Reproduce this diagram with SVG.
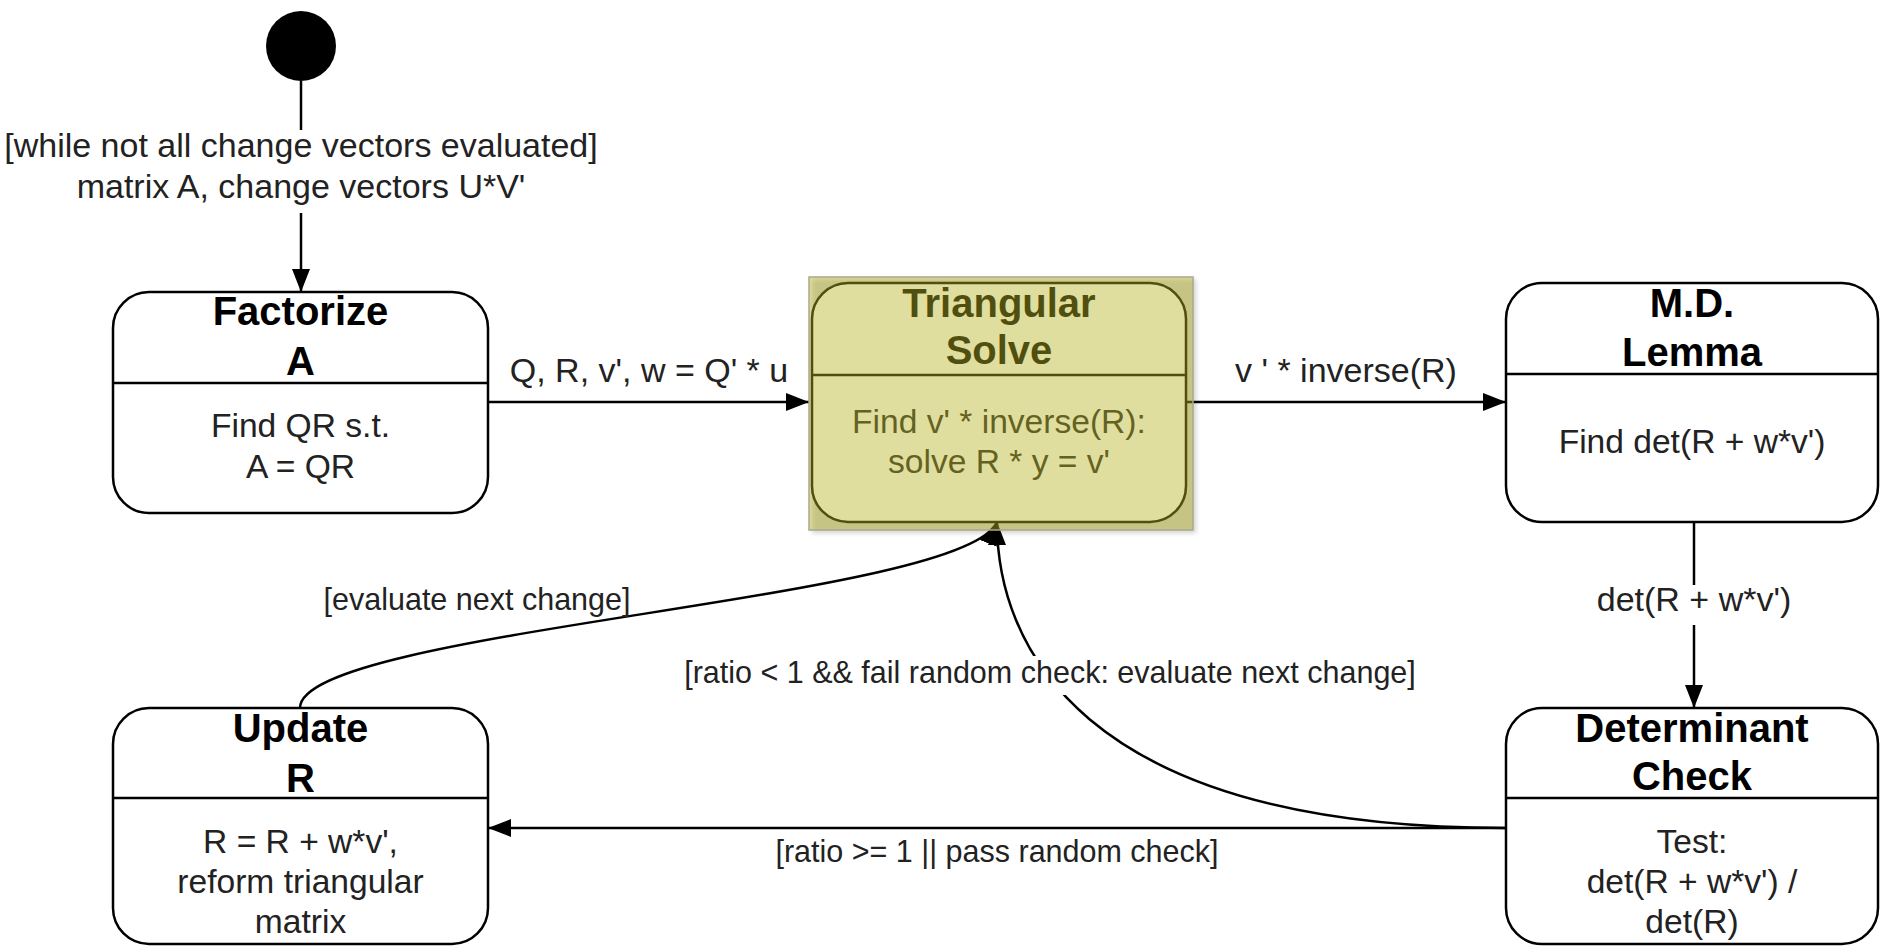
<svg xmlns="http://www.w3.org/2000/svg" width="1880" height="946" viewBox="0 0 1880 946">
  <style>
    .box { fill: #ffffff; stroke: #000000; stroke-width: 2.5; }
    .div { stroke: #000000; stroke-width: 2.5; }
    .title { font-family: "Liberation Sans", Arial, sans-serif; font-weight: bold; font-size: 40px; fill: #000000; text-anchor: middle; }
    .body { font-family: "Liberation Sans", Arial, sans-serif; font-size: 33.6px; fill: #222222; text-anchor: middle; }
    .edge { fill: none; stroke: #000000; stroke-width: 2.5; }
    .lbl { font-family: "Liberation Sans", Arial, sans-serif; font-size: 34px; fill: #222222; text-anchor: middle; }
    .guard { font-family: "Liberation Sans", Arial, sans-serif; font-size: 30.5px; fill: #222222; text-anchor: middle; }
    .lblbg { fill: #ffffff; }
  </style>
  <defs>
    <marker id="arrow" markerUnits="userSpaceOnUse" markerWidth="24" markerHeight="20" refX="23" refY="9" orient="auto">
      <path d="M0,0 L23,9 L0,18 Z" fill="#000000"/>
    </marker>
    <filter id="soft" x="-10%" y="-10%" width="120%" height="120%">
      <feGaussianBlur stdDeviation="2.5"/>
    </filter>
  </defs>

  <rect width="1880" height="946" fill="#ffffff"/>

  <!-- transitions -->
  <g id="connectors">
    <line class="edge" x1="301" y1="81" x2="301" y2="292" marker-end="url(#arrow)"/>
    <line class="edge" x1="488" y1="402" x2="809" y2="402" marker-end="url(#arrow)"/>
    <line class="edge" x1="1186" y1="402" x2="1506" y2="402" marker-end="url(#arrow)"/>
    <line class="edge" x1="1694" y1="522" x2="1694" y2="708" marker-end="url(#arrow)"/>
    <line class="edge" x1="1506" y1="828" x2="488" y2="828" marker-end="url(#arrow)"/>
    <path class="edge" d="M300,708 C300,630 965,600 997,522" marker-end="url(#arrow)"/>
    <path class="edge" d="M1506,828 C1074,828 997,640 997,522" marker-end="url(#arrow)"/>

    <rect class="lblbg" x="4" y="130" width="594" height="83"/>
    <text class="lbl" x="301" y="157">[while not all change vectors evaluated]</text>
    <text class="lbl" x="301" y="198">matrix A, change vectors U*V'</text>

    <text class="lbl" x="649" y="382">Q, R, v', w = Q' * u</text>
    <text class="lbl" x="1346" y="382">v ' * inverse(R)</text>

    <rect class="lblbg" x="1592" y="585" width="206" height="40"/>
    <text class="lbl" x="1694" y="611">det(R + w*v')</text>

    <text class="guard" x="477" y="610">[evaluate next change]</text>
    <rect class="lblbg" x="683" y="656" width="735" height="39"/>
    <text class="guard" x="1050" y="683">[ratio &lt; 1 &amp;&amp; fail random check: evaluate next change]</text>
    <text class="guard" x="997" y="862">[ratio &gt;= 1 || pass random check]</text>
  </g>

  <!-- initial pseudostate -->
  <g id="node-start">
    <circle cx="301" cy="46" r="35" fill="#000000"/>
  </g>

  <g id="node-factorize">
    <rect class="box" x="113" y="292" width="375" height="221" rx="36" ry="36"/>
    <line class="div" x1="113" y1="383" x2="488" y2="383"/>
    <text class="title" x="300.5" y="325">Factorize</text>
    <text class="title" x="300.5" y="375">A</text>
    <text class="body" x="300.5" y="437">Find QR s.t.</text>
    <text class="body" x="300.5" y="478">A = QR</text>
  </g>

  <g id="node-triangular">
    <rect x="812" y="279" width="384" height="254" fill="#000000" opacity="0.18" filter="url(#soft)"/>
    <rect class="box" x="812" y="283" width="374" height="239" rx="36" ry="36"/>
    <line class="div" x1="812" y1="375" x2="1186" y2="375"/>
    <text class="title" x="999" y="317">Triangular</text>
    <text class="title" x="999" y="364">Solve</text>
    <text class="body" x="999" y="433">Find v' * inverse(R):</text>
    <text class="body" x="999" y="473">solve R * y = v'</text>
    <!-- selection highlight -->
    <rect x="809" y="277" width="384" height="253" fill="rgb(184,180,36)" fill-opacity="0.44" stroke="#a9a98a" stroke-width="1.5"/>
  </g>

  <g id="node-mdlemma">
    <rect class="box" x="1506" y="283" width="372" height="239" rx="36" ry="36"/>
    <line class="div" x1="1506" y1="374" x2="1878" y2="374"/>
    <text class="title" x="1692" y="317">M.D.</text>
    <text class="title" x="1692" y="366">Lemma</text>
    <text class="body" x="1692" y="453">Find det(R + w*v')</text>
  </g>

  <g id="node-update">
    <rect class="box" x="113" y="708" width="375" height="236" rx="36" ry="36"/>
    <line class="div" x1="113" y1="798" x2="488" y2="798"/>
    <text class="title" x="300.5" y="742">Update</text>
    <text class="title" x="300.5" y="792">R</text>
    <text class="body" x="300.5" y="853">R = R + w*v',</text>
    <text class="body" x="300.5" y="893">reform triangular</text>
    <text class="body" x="300.5" y="933">matrix</text>
  </g>

  <g id="node-detcheck">
    <rect class="box" x="1506" y="708" width="372" height="236" rx="36" ry="36"/>
    <line class="div" x1="1506" y1="798" x2="1878" y2="798"/>
    <text class="title" x="1692" y="742">Determinant</text>
    <text class="title" x="1692" y="790">Check</text>
    <text class="body" x="1692" y="853">Test:</text>
    <text class="body" x="1692" y="893">det(R + w*v') /</text>
    <text class="body" x="1692" y="933">det(R)</text>
  </g>
</svg>
